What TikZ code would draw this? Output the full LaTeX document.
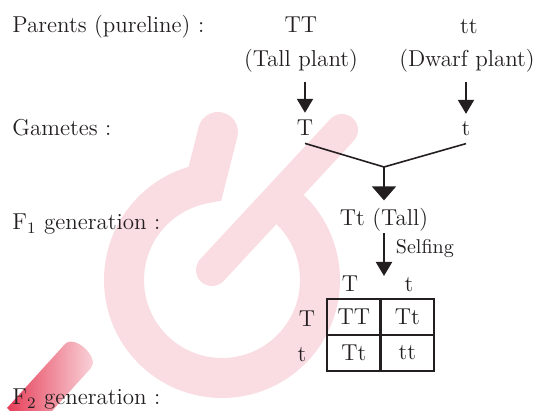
\documentclass[tikz,border=0pt]{standalone}
\usepackage{tikz}
\usetikzlibrary{arrows.meta, positioning, calc}
\usepackage{xcolor}
\definecolor{inkgray}{RGB}{35,31,32}
\definecolor{wmpink}{RGB}{250,221,226}
\definecolor{wmred}{RGB}{230,62,88}

\begin{document}
\begin{tikzpicture}[x=0.5pt, y=-0.5pt,
  txt/.style={inner sep=0pt, text=inkgray, font=\fontsize{11.5}{14}\selectfont},
  arr/.style={draw=inkgray, line width=1pt, -{Triangle[width=8pt, length=7pt]}},
  cell/.style={txt, draw=inkgray, line width=1pt, minimum width=27pt, minimum height=18pt}]
  \useasboundingbox (0,0) rectangle (543,411);
  % Watermark
  \draw[wmpink, line width=20pt, line cap=round] (222,280) ++(-45:98) arc[start angle=-45, end angle=260, radius=98] -- (218,132);
  \draw[wmpink, line width=16pt, line cap=round] (342,130) -- (212,270);
  \shade[left color=wmred, middle color=wmpink!70!wmred, right color=wmpink] (7,408) -- (65,344) .. controls (75,334) and (100,358) .. (91,368) -- (33,432) -- cycle;
  % Row labels
  \node[txt, anchor=base west] (parents) at (12,33) {Parents (pureline) :};
  \node[txt, anchor=base west] (gametes) at (12,136) {Gametes :};
  \node[txt, anchor=base west] (fone) at (12,230) {F$_1$ generation :};
  \node[txt, anchor=base west] (ftwo) at (12,405) {F$_2$ generation :};
  % Cross
  \node[txt, anchor=base] (TT) at (301,33) {TT};
  \node[txt, anchor=base] (tt) at (469,34) {tt};
  \node[txt, anchor=base] (tall) at (301,67) {(Tall plant)};
  \node[txt, anchor=base] (dwarf) at (467,67) {(Dwarf plant)};
  \node[txt, anchor=base] (gT) at (305,136) {T};
  \node[txt, anchor=base] (gt) at (466,136) {t};
  \node[txt, anchor=base] (hybrid) at (384,226) {Tt (Tall)};
  \coordinate (mid) at (384,167);
  % Punnett square
  \node[cell] (c11) at (354,317) {TT};
  \node[cell] (c12) at (407.5,317) {Tt};
  \node[cell] (c21) at (354,353) {Tt};
  \node[cell] (c22) at (407.5,353) {tt};
  \node[txt, anchor=base] (hT) at (350,292) {T};
  \node[txt, anchor=base] (ht) at (409,292) {t};
  \node[txt, anchor=base] (rT) at (307,327) {T};
  \node[txt, anchor=base] (rt) at (302,362) {t};
  % Connectors
  \draw[arr, shorten <=4.6pt, shorten >=3.6pt] (tall.south -| gT) -- (gT.north);
  \draw[arr, shorten <=4.6pt, shorten >=3.8pt] (dwarf.south -| gt) -- (gt.north);
  \draw[inkgray, line width=0.8pt] ([yshift=-3.5pt]gT.south) -- (mid) -- ([yshift=-3.5pt]gt.south);
  \draw[arr, -{Triangle[width=12pt, length=7pt]}, shorten >=4pt] (mid) -- (hybrid.north -| mid);
  \draw[arr, shorten <=0.5pt, shorten >=11pt] (hybrid.south) -- (hybrid.south |- c11.north)
    node[pos=0.25, right=5.5pt, txt, font=\fontsize{10}{12}\selectfont] (self) {Selfing};
\end{tikzpicture}
\end{document}
